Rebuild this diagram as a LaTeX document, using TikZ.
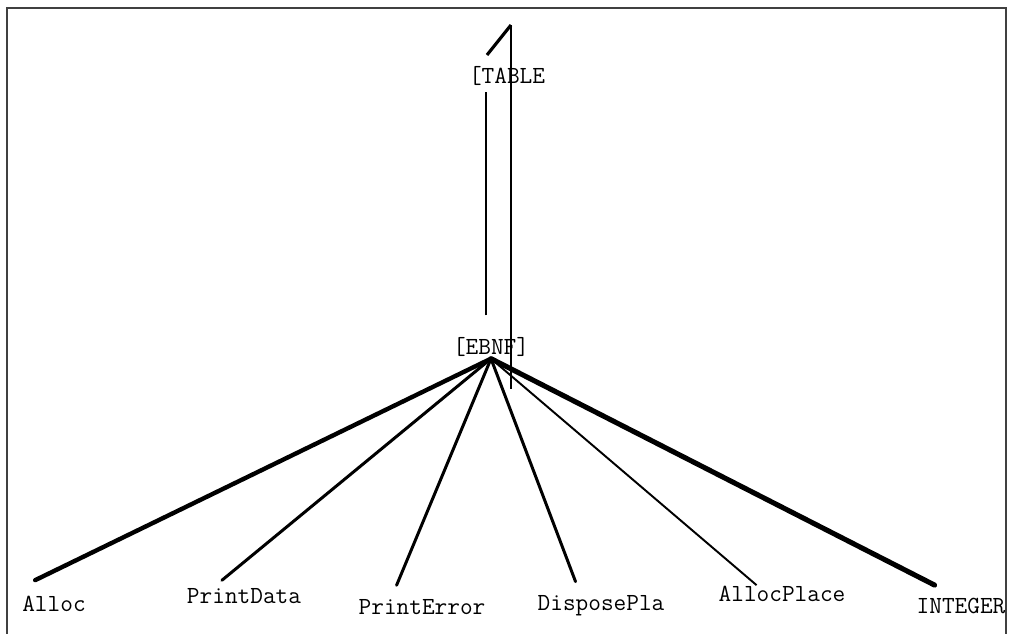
\documentclass[tikz,border=0pt]{standalone}
\usetikzlibrary{calc}

\begin{document}
\begin{tikzpicture}[x=0.02cm, y=-0.02cm,
                    label/.style = {
                      inner sep=1pt, font=\ttfamily\fontsize{14}{16}\selectfont
                    },
                    edgeline/.style = {line width=1.7pt, line cap=round},
                    fatline/.style = {line width=2.5pt, line cap=round},
                    slimline/.style = {line width=1.1pt}]
    \useasboundingbox (0,0) rectangle (1011,633);
    % frame, open at the bottom
    \draw[line width=1.2pt, black!75] (7,640) -- (7,8) -- (1006,8) -- (1006,640);

    \node(table) [label] at (507,76) {[TABLE};
    \node(ebnf)  [label] at (491,347) {[EBNF]};

    \node(alloc)      [label] at (54,604)  {Alloc};
    \node(printdata)  [label] at (244,596) {PrintData};
    \node(printerror) [label] at (422,607) {PrintError};
    \node(disposepla) [label] at (601,606) {DisposePla};
    \node(allocplace) [label] at (782,594) {AllocPlace};
    \node(integer)    [label] at (961,606) {INTEGER};

    % table <-> ebnf
    \coordinate (ebnftop) at ($(ebnf.north)+(-5,-20)$);
    \draw[line width=0.9pt] (ebnftop) -- ($(ebnftop |- table.south)+(0,4)$);
    \draw[slimline] ($(ebnf.south)+(20,30)$) -- (511,25) coordinate (tiptop);
    \draw[line width=1.8pt] (tiptop) -- ++(-24,30);

    % ebnf to its children
    \draw[fatline]  (ebnf.south) -- ($(alloc.north west)+(15,-14)$);
    \draw[edgeline] (ebnf.south) -- ($(printdata.north west)+(37,-6)$);
    \draw[edgeline] (ebnf.south) -- ($(printerror.north west)+(40,-12)$);
    \draw[edgeline] (ebnf.south) -- ($(disposepla.north west)+(40,-12)$);
    \draw[slimline] (ebnf.south) -- ($(allocplace.north west)+(40,1)$);
    \draw[line width=2.9pt, line cap=round] (ebnf.south) -- ($(integer.north west)+(20,-11)$);
  \end{tikzpicture}
\end{document}
